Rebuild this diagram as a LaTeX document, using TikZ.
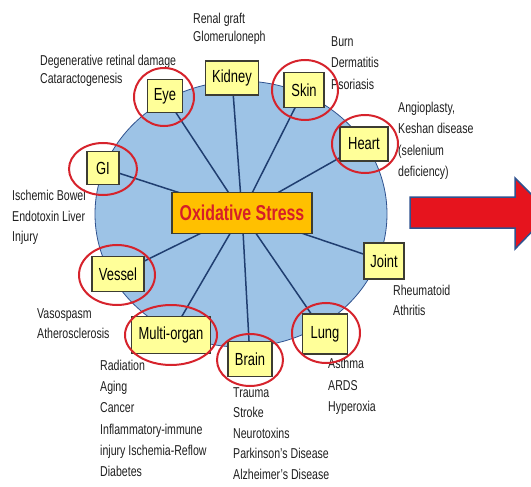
\documentclass[tikz,border=0pt]{standalone}
\usepackage{fontspec}
\setmainfont{Liberation Sans}[FakeStretch=0.74]
\pgfdeclarelayer{bg}
\pgfsetlayers{bg,main}
\definecolor{blueFill}{RGB}{157,195,230}
\definecolor{blueEdge}{RGB}{47,82,143}
\definecolor{lineCol}{RGB}{32,62,112}
\definecolor{boxFill}{RGB}{255,255,153}
\definecolor{boxEdge}{RGB}{60,60,50}
\definecolor{ctrFill}{RGB}{255,192,0}
\definecolor{ctrText}{RGB}{214,30,40}
\definecolor{ringRed}{RGB}{214,35,44}
\definecolor{txtCol}{RGB}{30,30,30}
\definecolor{arrRed}{RGB}{230,20,30}
\tikzset{
  organ/.style={draw=boxEdge, line width=1.4pt, fill=boxFill, inner sep=0pt,
    font={\fontsize{17.5}{19}\selectfont}, text=black},
  center box/.style={draw=boxEdge, line width=1.4pt, fill=ctrFill, inner sep=0pt,
    minimum width=140pt, minimum height=41pt,
    font={\fontsize{21.5}{23}\selectfont\bfseries}, text=ctrText},
  ring/.style={draw=ringRed, line width=2pt},
  spoke/.style={draw=lineCol, line width=1.5pt},
  lbl/.style={anchor=north west, inner sep=0pt, align=left, text=txtCol,
    font={\fontsize{14.3}{20.5}\selectfont}},
}
\begin{document}
\begin{tikzpicture}[x=1pt,y=-1pt]
\useasboundingbox (0,0) rectangle (531,487);

% organ boxes
\node[center box] (c) at (242,213) {Oxidative Stress};
\node[organ, minimum width=35pt, minimum height=33pt] (eye) at (165,96) {Eye};
\node[organ, minimum width=53pt, minimum height=34pt] (kidney) at (232,78) {Kidney};
\node[organ, minimum width=40pt, minimum height=35pt] (skin) at (304,90) {Skin};
\node[organ, minimum width=48pt, minimum height=34pt] (heart) at (364,144) {Heart};
\node[organ, minimum width=32pt, minimum height=33pt] (gi) at (103,168) {GI};
\node[organ, minimum width=52pt, minimum height=35pt] (vessel) at (118,274) {Vessel};
\node[organ, minimum width=79pt, minimum height=37pt] (multi) at (171,335) {Multi-organ};
\node[organ, minimum width=44pt, minimum height=35pt] (brain) at (250,359) {Brain};
\node[organ, minimum width=45pt, minimum height=40pt] (lung) at (325,334) {Lung};
\node[organ, minimum width=40pt, minimum height=36pt] (joint) at (384,261) {Joint};

% background disc and spokes
\begin{pgfonlayer}{bg}
  \fill[blueFill, draw=blueEdge, line width=0.8pt] (241,214) ellipse [x radius=146, y radius=133];
  \foreach \o in {eye,kidney,skin,heart,gi,vessel,multi,brain,lung,joint}
    \draw[spoke] (c.center) -- (\o.center);
\end{pgfonlayer}

% labels
\node[lbl, font={\fontsize{14.3}{17.5}\selectfont}] (t1) at (193,13) {Renal graft\\Glomeruloneph};
\node[lbl, font={\fontsize{14.3}{18}\selectfont}] (t2) at (40,55) {Degenerative retinal damage\\Cataractogenesis};
\node[lbl, font={\fontsize{14.3}{21.5}\selectfont}] (t3) at (331,36) {Burn\\Dermatitis\\Psoriasis};
\node[lbl, font={\fontsize{14.3}{21.3}\selectfont}] (t4) at (398,102) {Angioplasty,\\Keshan disease\\(selenium\\deficiency)};
\node[lbl] (t5) at (12,190) {Ischemic Bowel\\Endotoxin Liver\\Injury};
\node[lbl, font={\fontsize{14.3}{20}\selectfont}] (t6) at (37,308) {Vasospasm\\Atherosclerosis};
\node[lbl, font={\fontsize{14.3}{21.2}\selectfont}] (t7) at (100,360) {Radiation\\Aging\\Cancer\\Inflammatory-immune\\injury Ischemia-Reflow\\Diabetes};
\node[lbl, font={\fontsize{14.3}{20.6}\selectfont}] (t8) at (233,387) {Trauma\\Stroke\\Neurotoxins\\Parkinson's Disease\\Alzheimer's Disease};
\node[lbl, font={\fontsize{14.3}{21.5}\selectfont}] (t9) at (328,358) {Asthma\\ARDS\\Hyperoxia};
\node[lbl, font={\fontsize{14.3}{20}\selectfont}] (t10) at (393,285) {Rheumatoid\\Athritis};

% red rings
\draw[ring] (164,97) ellipse [x radius=30, y radius=29];
\draw[ring] (305,90) ellipse [x radius=33, y radius=30];
\draw[ring] (365,144) ellipse [x radius=33, y radius=29];
\draw[ring] (103,169) ellipse [x radius=34, y radius=26];
\draw[ring] (117,275) ellipse [x radius=38, y radius=30];
\draw[ring] (171,335) ellipse [x radius=46, y radius=30];
\draw[ring] (250,360) ellipse [x radius=33, y radius=26];
\draw[ring] (326,333) ellipse [x radius=34, y radius=30];

% big arrow (clipped at right edge)
\begin{scope}
  \clip (0,0) rectangle (531,487);
  \draw[fill=arrRed, draw=blueEdge, line width=1.5pt, line join=miter]
    (410,197) -- (515,197) -- (515,178) -- (550,213) -- (515,249) -- (515,228) -- (410,228) -- cycle;
\end{scope}
\end{tikzpicture}
\end{document}
